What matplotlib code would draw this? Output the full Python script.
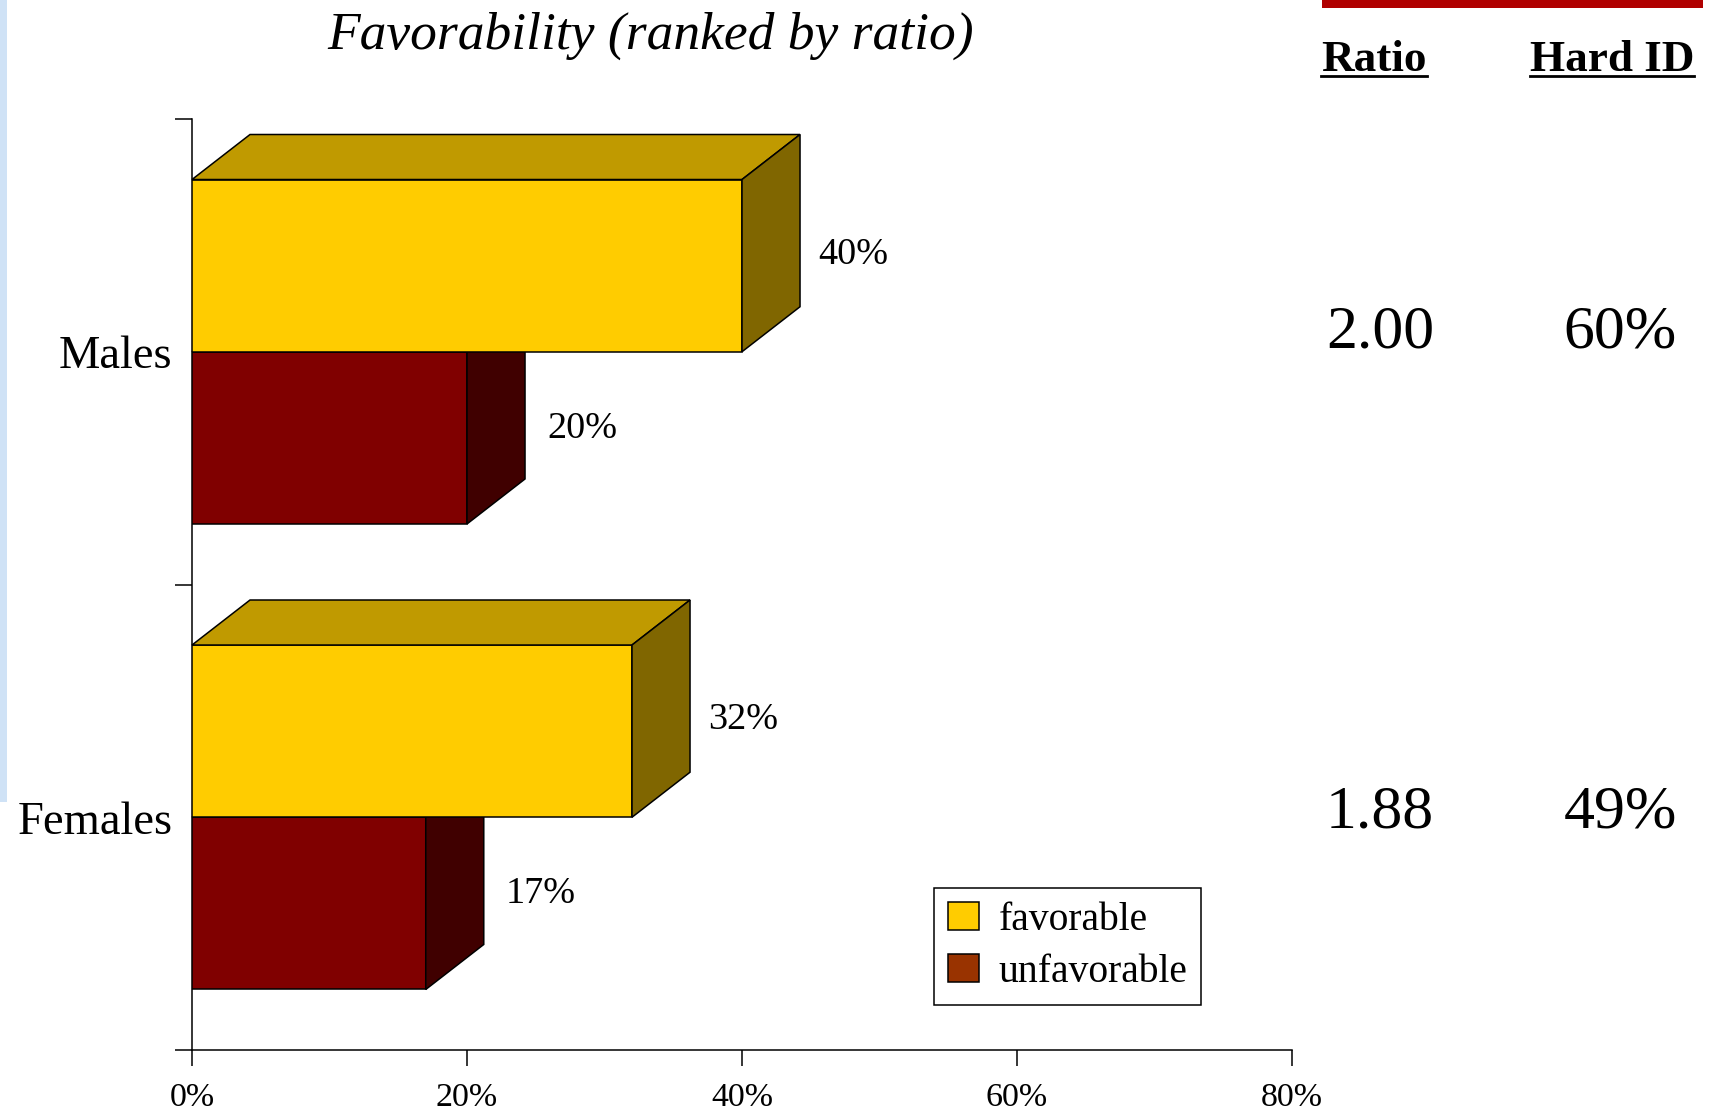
import matplotlib
matplotlib.use("Agg")
import matplotlib.pyplot as plt
from matplotlib.patches import Polygon, Rectangle, Patch
from matplotlib.lines import Line2D
from matplotlib.ticker import FixedLocator, FuncFormatter

plt.rcParams["font.family"] = ["Liberation Serif", "DejaVu Serif"]

# Data
categories = ["Females", "Males"]
favorable = [32, 40]
unfavorable = [17, 20]
ratio_labels = ["1.88", "2.00"]
hard_id_labels = ["49%", "60%"]
x_ticks = [0, 20, 40, 60, 80]
series_names = ["favorable", "unfavorable"]

# Colours: front, top and side faces of each series
FAV_FRONT, FAV_TOP, FAV_SIDE = "#FFCC00", "#C09A00", "#806600"
UNF_FRONT, UNF_TOP, UNF_SIDE = "#800000", "#600000", "#400000"
UNF_LEGEND = "#993300"

W, H, DPI = 1711, 1113, 100
fig = plt.figure(figsize=(W / DPI, H / DPI), dpi=DPI)
ax = fig.add_axes([192 / W, 1 - 1050 / H, 1100 / W, 931 / H])
ax.set_xlim(0, 80)
ax.set_ylim(0, 2)

bar_h = 0.37
dx, dy = 4.22, 0.0967
lw = 1.1


def bar3d(v, y0, front, top, side):
    y1 = y0 + bar_h
    ax.barh(y0, v, height=bar_h, left=0, align="edge", color=front,
            edgecolor="black", linewidth=lw, zorder=3)
    ax.add_patch(Polygon([(0, y1), (dx, y1 + dy), (v + dx, y1 + dy), (v, y1)],
                         closed=True, facecolor=top, edgecolor="black",
                         linewidth=lw, zorder=3, clip_on=False))
    ax.add_patch(Polygon([(v, y0), (v, y1), (v + dx, y1 + dy), (v + dx, y0 + dy)],
                         closed=True, facecolor=side, edgecolor="black",
                         linewidth=lw, zorder=3, clip_on=False))


for i, cat in enumerate(categories):
    centre = i + 0.5
    # lower (unfavorable) first so the favorable bar covers its hidden faces
    y_unf = centre - bar_h
    bar3d(unfavorable[i], y_unf, UNF_FRONT, UNF_TOP, UNF_SIDE)
    bar3d(favorable[i], centre, FAV_FRONT, FAV_TOP, FAV_SIDE)
    ax.text(favorable[i] + dx + 1.3, centre + bar_h / 2 + 0.004, f"{favorable[i]}%",
            ha="left", va="baseline", fontsize=27.5, zorder=4)
    ax.text(unfavorable[i] + dx + 1.6, y_unf + bar_h / 2, f"{unfavorable[i]}%",
            ha="left", va="baseline", fontsize=27.5, zorder=4)

# Axes styling
for s in ("top", "right"):
    ax.spines[s].set_visible(False)
for s in ("left", "bottom"):
    ax.spines[s].set_linewidth(lw)
ax.xaxis.set_major_locator(FixedLocator(x_ticks))
ax.xaxis.set_major_formatter(FuncFormatter(lambda v, p: f"{v:.0f}%"))
ax.tick_params(axis="x", which="major", direction="out", length=11.5,
               width=lw, labelsize=24.5, pad=12)
ax.yaxis.set_major_locator(FixedLocator([0, 1, 2]))
ax.yaxis.set_major_formatter(FuncFormatter(lambda v, p: ""))
ax.yaxis.set_minor_locator(FixedLocator([0.5, 1.5]))
ax.yaxis.set_minor_formatter(FuncFormatter(lambda v, p: categories[int(v)]))
ax.tick_params(axis="y", which="major", direction="out", length=12, width=lw)
ax.tick_params(axis="y", which="minor", length=0, labelsize=33.5, pad=14)

# Legend
handles = [Patch(facecolor=FAV_FRONT, edgecolor="black", linewidth=lw),
           Patch(facecolor=UNF_LEGEND, edgecolor="black", linewidth=lw)]
leg = fig.legend(handles, series_names, loc="upper left",
                 bbox_to_anchor=(934 / W, 1 - 888 / H), bbox_transform=fig.transFigure,
                 borderaxespad=0, fontsize=28.5, frameon=True, fancybox=False,
                 edgecolor="black", framealpha=1, handlelength=0.78,
                 handleheight=0.7, handletextpad=0.5, borderpad=0.35,
                 labelspacing=0.38)
leg.get_frame().set_linewidth(lw)

# Title
fig.text(651 / W, 1 - 49 / H, "Favorability (ranked by ratio)", style="italic",
         fontsize=38.5, ha="center", va="baseline")

# Side table headers and values
hdr_ratio = fig.text(1374 / W, 1 - 71 / H, "Ratio", fontsize=32.5,
                     fontweight="bold", ha="center", va="baseline")
hdr_hard = fig.text(1612 / W, 1 - 71 / H, "Hard ID", fontsize=32.5,
                    fontweight="bold", ha="center", va="baseline")
row_baselines = [827, 347]
for i in range(len(categories)):
    yb = 1 - row_baselines[i] / H
    fig.text(1380 / W, yb, ratio_labels[i], fontsize=44.5, ha="center", va="baseline")
    fig.text(1620 / W, yb, hard_id_labels[i], fontsize=44.5, ha="center", va="baseline")

# Underlines beneath the headers
renderer = fig.canvas.get_renderer()
for t in (hdr_ratio, hdr_hard):
    bb = t.get_window_extent(renderer=renderer)
    yline = 1 - 76 / H
    fig.add_artist(Line2D([bb.x0 / W, bb.x1 / W], [yline, yline],
                          transform=fig.transFigure, color="black", linewidth=2))

# Decorative strips
fig.add_artist(Rectangle((0, 1 - 802 / H), 7 / W, 802 / H, transform=fig.transFigure,
                         facecolor="#CFE2F6", edgecolor="none"))
fig.add_artist(Rectangle((1322 / W, 1 - 8 / H), 381 / W, 8 / H, transform=fig.transFigure,
                         facecolor="#B00000", edgecolor="none"))

fig.savefig("out.png", dpi=DPI)
